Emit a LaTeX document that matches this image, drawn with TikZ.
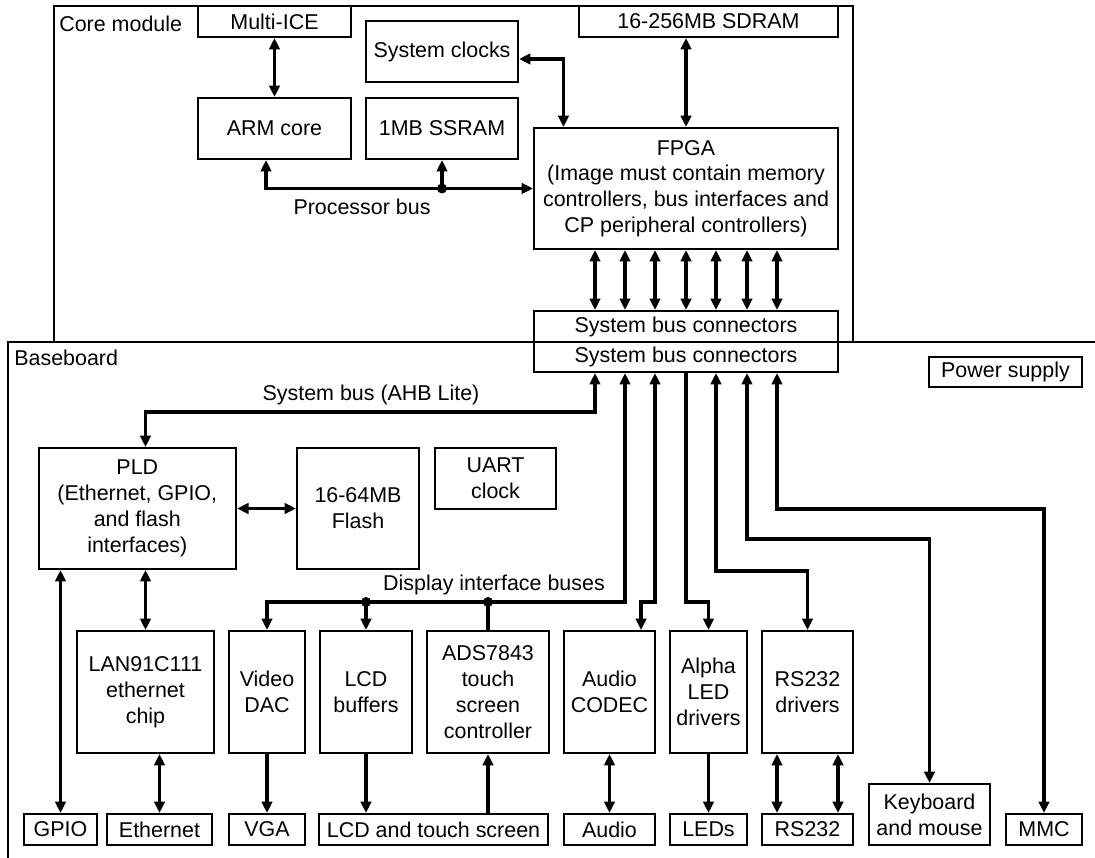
\documentclass[tikz,border=0pt]{standalone}
\usepackage{fontspec}
\setmainfont{Liberation Sans}
\usetikzlibrary{arrows.meta,calc}

\begin{document}
\begin{tikzpicture}[x=0.02cm,y=-0.02cm,
    >={Triangle[length=6.5pt,width=6pt]},
    every node/.style={font=\fontsize{12.2}{14.7}\selectfont}]
\tikzstyle{blk} = [draw, line width=1.2pt, inner sep=0pt, align=center];
\tikzstyle{boardline} = [draw, line width=1.2pt];
\tikzstyle{link} = [line width=2pt];
\tikzstyle{lbl} = [inner sep=0pt];

    \useasboundingbox (0,0) rectangle (1095,858);

    \draw[boardline] (53.6,6) rectangle (853,342);
    \draw[boardline] (8,858) -- (8,342) -- (1095,342);
    \node (lcore) at (59,24) [lbl, anchor=west] {Core module};
    \node (lbase) at (14,358) [lbl, anchor=west] {Baseboard};

    % core module
    \node (mice) at (274.5,21.5) [blk, minimum width=3.06cm, minimum height=0.62cm] {Multi-ICE};
    \node (clk) at (442,51.5) [blk, minimum width=3.04cm, minimum height=1.22cm] {System clocks};
    \node (arm) at (274.5,128.5) [blk, minimum width=3.06cm, minimum height=1.22cm] {ARM core};
    \node (ssram) at (442,128.5) [blk, minimum width=3.04cm, minimum height=1.22cm] {1MB SSRAM};
    \node (sdram) at (708.5,21.5) [blk, minimum width=5.18cm, minimum height=0.62cm] {16-256MB SDRAM};
    \node (fpga) at (686,188.5) [blk, minimum width=6.08cm, minimum height=2.42cm]
        {FPGA\\(Image must contain memory\\controllers, bus interfaces and\\CP peripheral controllers)};
    \node (conup) at (686,326.5) [blk, minimum width=6.08cm, minimum height=0.62cm] {System bus connectors};
    \node (condn) at (686,357) [blk, minimum width=6.08cm, minimum height=0.60cm] {System bus connectors};

    \draw[link,<->] (mice) -- (arm);
    \draw[link,<->] (sdram.south -| fpga) -- (fpga.north);
    \draw[link,<->] ([yshift=-0.15cm]clk.east) -| ([xshift=0.61cm]fpga.north west);
    \draw[link,<->] ([xshift=-0.17cm]arm.south) |- (fpga.west);
    \draw[link,->] (ssram.south |- fpga.west) -- (ssram.south);
    \fill (ssram.south |- fpga.west) circle (0.1cm);
    \node (lproc) at (362,207) [lbl] {Processor bus};

    \foreach \i/\x in {1/595, 2/625, 3/655, 4/686, 5/716, 6/747, 7/777} {
        \coordinate (p\i) at (\x,0);
        \draw[link,<->] (fpga.south -| p\i) -- (conup.north -| p\i);
    }

    % baseboard
    \node (psu) at (1005.5,372) [blk, minimum width=3.06cm, minimum height=0.60cm] {Power supply};
    \node (pld) at (137.3,508.5) [blk, minimum width=3.95cm, minimum height=2.42cm]
        {PLD\\(Ethernet, GPIO,\\and flash\\interfaces)};
    \node (flash) at (358,508.5) [blk, minimum width=2.44cm, minimum height=2.42cm] {16-64MB\\Flash};
    \node (uart) at (495.5,478.5) [blk, minimum width=2.42cm, minimum height=1.22cm] {UART\\clock};

    \node (lan) at (145.5,692) [blk, minimum width=2.74cm, minimum height=2.44cm] {LAN91C111\\ethernet\\chip};
    \node (vdac) at (267,692) [blk, minimum width=1.52cm, minimum height=2.44cm] {Video\\DAC};
    \node (lcdb) at (366,692) [blk, minimum width=1.84cm, minimum height=2.44cm] {LCD\\buffers};
    \node (ads) at (488,692) [blk, minimum width=2.44cm, minimum height=2.44cm] {ADS7843\\touch\\screen\\controller};
    \node (codec) at (609.5,692) [blk, minimum width=1.82cm, minimum height=2.44cm] {Audio\\CODEC};
    \node (aled) at (708.5,692) [blk, minimum width=1.54cm, minimum height=2.44cm] {Alpha\\LED\\drivers};
    \node (rsdrv) at (807.5,692) [blk, minimum width=1.82cm, minimum height=2.44cm] {RS232\\drivers};

    \node (gpio) at (60.5,829.5) [blk, minimum width=1.46cm, minimum height=0.62cm] {GPIO};
    \node (eth) at (159.5,829.5) [blk, minimum width=2.10cm, minimum height=0.62cm] {Ethernet};
    \node (vga) at (267,829.5) [blk, minimum width=1.52cm, minimum height=0.62cm] {VGA};
    \node (lcdts) at (433.5,829.5) [blk, minimum width=4.58cm, minimum height=0.62cm] {LCD and touch screen};
    \node (audio) at (609.5,829.5) [blk, minimum width=1.82cm, minimum height=0.62cm] {Audio};
    \node (leds) at (708.5,829.5) [blk, minimum width=1.54cm, minimum height=0.62cm] {LEDs};
    \node (rs232) at (807.5,829.5) [blk, minimum width=1.82cm, minimum height=0.62cm] {RS232};
    \node (kbd) at (929.5,814.5) [blk, minimum width=2.42cm, minimum height=1.22cm] {Keyboard\\and mouse};
    \node (mmc) at (1044,829.5) [blk, minimum width=1.52cm, minimum height=0.62cm] {MMC};

    \coordinate (ahb) at (0,412);
    \coordinate (disp) at (0,602);
    \coordinate (rsrow) at (0,571);
    \coordinate (kbrow) at (0,539);
    \coordinate (mmrow) at (0,509);
    \coordinate (cin) at ([xshift=-0.3cm]codec.north east);

    \draw[link,<->] (condn.south -| p1) |- (ahb -| lan) -- (pld.north -| lan);
    \node (lahb) at (371,395) [lbl] {System bus (AHB Lite)};
    \draw[link,<->] (condn.south -| p2) |- (disp -| vdac) -- (vdac.north);
    \draw[link,->] (lcdb |- disp) -- (lcdb.north);
    \draw[link] (ads |- disp) -- (ads.north);
    \fill (lcdb |- disp) circle (0.1cm);
    \fill (ads |- disp) circle (0.1cm);
    \node (ldisp) at (494,585) [lbl] {Display interface buses};
    \draw[link,<->] (condn.south -| p3) |- (cin |- disp) -- (cin);
    \draw[link,->] (condn.south -| p4) |- (aled.north |- disp) -- (aled.north);
    \draw[link,<->] (condn.south -| p5) |- (rsdrv.north |- rsrow) -- (rsdrv.north);
    \draw[link,<->] (condn.south -| p6) |- (kbd.north |- kbrow) -- (kbd.north);
    \draw[link,<->] (condn.south -| p7) |- (mmc.north |- mmrow) -- (mmc.north);

    \draw[link,<->] (pld) -- (flash);
    \draw[link,<->] (pld.south -| gpio) -- (gpio.north);
    \draw[link,<->] (pld.south -| lan) -- (lan.north);
    \draw[link,<->] (lan.south -| eth) -- (eth.north);
    \draw[link,->] (vdac) -- (vga);
    \draw[link,->] (lcdb.south) -- (lcdb.south |- lcdts.north);
    \draw[link,->] (ads.south |- lcdts.north) -- (ads.south);
    \draw[link,<->] (codec) -- (audio);
    \draw[link,->] (aled) -- (leds);
    \draw[link,<->] ([xshift=-0.61cm]rsdrv.south) -- ([xshift=-0.61cm]rs232.north);
    \draw[link,<->] ([xshift=0.61cm]rsdrv.south) -- ([xshift=0.61cm]rs232.north);

\end{tikzpicture}
\end{document}
